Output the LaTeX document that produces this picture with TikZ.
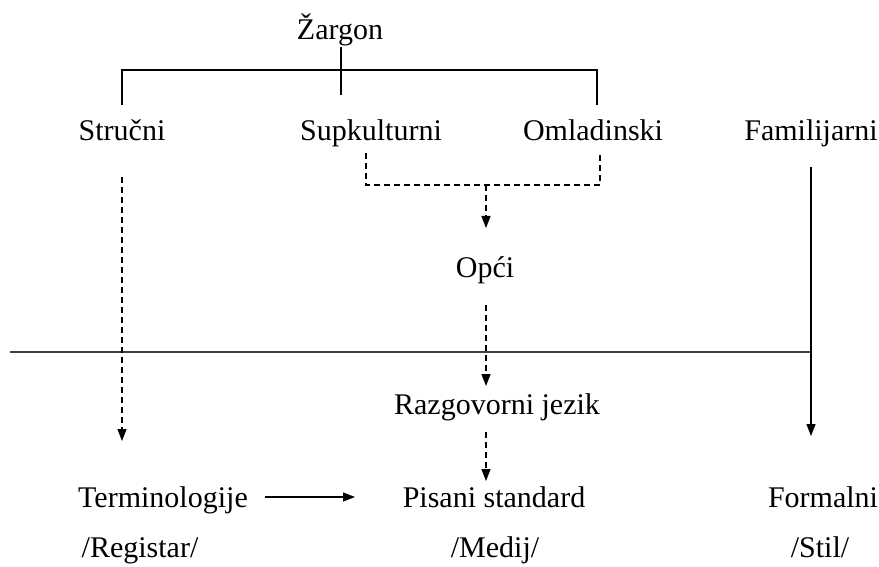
\documentclass[tikz,border=0pt]{standalone}
\usepackage{fontspec}
\setmainfont{Liberation Serif}
\usetikzlibrary{arrows.meta}
\begin{document}
\begin{tikzpicture}[x=1pt,y=-1pt,
 lbl/.style={font=\fontsize{30}{33}\selectfont, inner sep=0pt, anchor=base},
 ln/.style={line width=1.3pt, black},
 dsh/.style={ln, dash pattern=on 6pt off 4pt},
 tip/.style={-{Triangle[length=12pt,width=9pt]}}
]
\useasboundingbox (0,0) rectangle (879,567);
% nodes
\node[lbl] (zar) at (340,40) {Žargon};
\node[lbl] (str) at (122,141) {Stručni};
\node[lbl] (sup) at (371,141) {Supkulturni};
\node[lbl] (oml) at (593,141) {Omladinski};
\node[lbl] (fam) at (811,141) {Familijarni};
\node[lbl] (opc) at (485,277) {Opći};
\node[lbl] (raz) at (497,414) {Razgovorni jezik};
\node[lbl] (ter) at (163,507) {Terminologije};
\node[lbl] (pis) at (494,507) {Pisani standard};
\node[lbl] (for) at (823,507) {Formalni};
\node[lbl] (reg) at (140,557) {/Registar/};
\node[lbl] (med) at (495,557) {/Medij/};
\node[lbl] (sti) at (820,557) {/Stil/};
% coordinates
\coordinate (zb) at (341,95);
\coordinate (bl) at (122,70);
\coordinate (br) at (597,70);
\coordinate (blb) at (122,105);
\coordinate (brb) at (597,105);
\coordinate (dl) at (366,153);
\coordinate (dlb) at (366,185);
\coordinate (dr) at (600,153);
\coordinate (drb) at (600,185);
\coordinate (dm) at (486,185);
\coordinate (dmt) at (486,228);
\coordinate (hl) at (10,352);
\coordinate (hr) at (811,352);
% Žargon bracket
\draw[ln] (zar.south -| zb) -- (zb);
\draw[ln] (blb) -- (bl) -- (br) -- (brb);
% dashed bracket
\draw[dsh] (dl) -- (dlb) -- (drb) -- (dr);
\draw[dsh,tip] (dm) -- (dmt);
% horizontal line
\draw[line width=1.5pt, black!75] (hl) -- (hr);
% arrows
\draw[dsh,tip] (122,177) -- (122,441);
\draw[ln,tip] (811,167) -- (811,436);
\draw[dsh,tip] (486,305) -- (486,386);
\draw[dsh,tip] (486,432) -- (486,481);
\draw[ln,tip] (265,497) -- (355,497);
\end{tikzpicture}
\end{document}
